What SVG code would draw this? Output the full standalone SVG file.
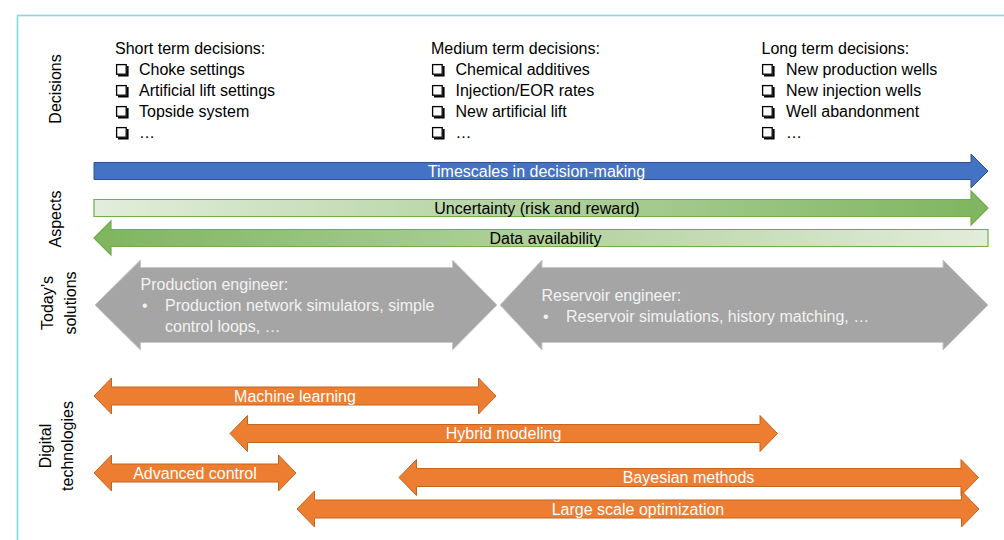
<svg xmlns="http://www.w3.org/2000/svg" width="1004" height="540" viewBox="0 0 1004 540">
  <style>
    text { font-family: "Liberation Sans", Arial, sans-serif; font-size: 16px; }
    .dark { fill: #000; }
    .light { fill: #ffffff; }
    .soft { fill: #f2f2f2; }
    .mid { text-anchor: middle; }
    .blue { fill: #4472c4; stroke: #2f528f; stroke-width: 1; }
    .green { stroke: #70ad47; stroke-width: 1.2; }
    .gray { fill: #a5a5a5; stroke: #c9c9c9; stroke-width: 1; }
    .orange { fill: #ed7d31; stroke: #c4651f; stroke-width: 1; }
  </style>
  <defs>
    <linearGradient id="gradUp" x1="0" y1="0" x2="1" y2="0">
      <stop offset="0" stop-color="#e2eddb"/>
      <stop offset="1" stop-color="#7fb55e"/>
    </linearGradient>
    <linearGradient id="gradDown" x1="0" y1="0" x2="1" y2="0">
      <stop offset="0" stop-color="#7fb55e"/>
      <stop offset="1" stop-color="#e2eddb"/>
    </linearGradient>
    <!-- checkbox bullet: outlined square with a drop shadow on the right and bottom -->
    <g id="box">
      <rect x="0.6" y="0.6" width="9.6" height="9.6" fill="none" stroke="#000" stroke-width="1.3"/>
      <path d="M10.8 2 H12.6 V12.6 H2 V10.8 H10.8 Z" fill="#000"/>
    </g>
  </defs>

  <!-- frame -->
  <rect x="17.5" y="15.5" width="1100" height="600" fill="#fff" stroke="#86d8d8" stroke-width="1.6"/>

  <!-- row labels -->
  <g id="row-labels" class="dark">
    <text class="mid" transform="translate(60.5,89) rotate(-90)">Decisions</text>
    <text class="mid" transform="translate(60.5,219) rotate(-90)">Aspects</text>
    <text class="mid" transform="translate(52.5,303) rotate(-90)">Today’s</text>
    <text class="mid" transform="translate(75.5,303) rotate(-90)">solutions</text>
    <text class="mid" transform="translate(51,446) rotate(-90)">Digital</text>
    <text class="mid" transform="translate(73,446) rotate(-90)">technologies</text>
  </g>

  <!-- decision lists -->
  <g id="short-term" class="dark">
    <text x="115" y="54">Short term decisions:</text>
    <use href="#box" x="116" y="64"/><text x="139" y="75">Choke settings</text>
    <use href="#box" x="116" y="85"/><text x="139" y="96">Artificial lift settings</text>
    <use href="#box" x="116" y="106"/><text x="139" y="117">Topside system</text>
    <use href="#box" x="116" y="127"/><text x="139" y="138">…</text>
  </g>
  <g id="medium-term" class="dark">
    <text x="431" y="54">Medium term decisions:</text>
    <use href="#box" x="432" y="64"/><text x="455.5" y="75">Chemical additives</text>
    <use href="#box" x="432" y="85"/><text x="455.5" y="96">Injection/EOR rates</text>
    <use href="#box" x="432" y="106"/><text x="455.5" y="117">New artificial lift</text>
    <use href="#box" x="432" y="127"/><text x="455.5" y="138">…</text>
  </g>
  <g id="long-term" class="dark">
    <text x="761.5" y="54">Long term decisions:</text>
    <use href="#box" x="762" y="64"/><text x="786" y="75">New production wells</text>
    <use href="#box" x="762" y="85"/><text x="786" y="96">New injection wells</text>
    <use href="#box" x="762" y="106"/><text x="786" y="117">Well abandonment</text>
    <use href="#box" x="762" y="127"/><text x="786" y="138">…</text>
  </g>

  <!-- aspects -->
  <g id="timescales">
    <polygon class="blue" points="94,162.5 971,162.5 971,154 988,171 971,188 971,179.5 94,179.5"/>
    <text class="light mid" x="536.5" y="176.5">Timescales in decision-making</text>
  </g>
  <g id="uncertainty">
    <polygon class="green" fill="url(#gradUp)" points="94,199.5 971,199.5 971,191 988,208 971,225 971,216.5 94,216.5"/>
    <text class="dark mid" x="537" y="213.5">Uncertainty (risk and reward)</text>
  </g>
  <g id="data-availability">
    <polygon class="green" fill="url(#gradDown)" points="94,238 111,221 111,229.5 988,229.5 988,246.5 111,246.5 111,255"/>
    <text class="dark mid" x="545.5" y="243.5">Data availability</text>
  </g>

  <!-- today's solutions -->
  <g id="production-engineer">
    <polygon class="gray" points="95,305 140.5,260 140.5,267.5 452.5,267.5 452.5,260 497,305 452.5,350 452.5,342.5 140.5,342.5 140.5,350"/>
    <text class="soft" x="140.5" y="289.5">Production engineer:</text>
    <text class="soft" x="142" y="310.5">•</text>
    <text class="soft" x="165" y="310.5">Production network simulators, simple</text>
    <text class="soft" x="165" y="331.5">control loops, …</text>
  </g>
  <g id="reservoir-engineer">
    <polygon class="gray" points="500,305 542,260 542,267.5 943,267.5 943,260 988,305 943,350 943,342.5 542,342.5 542,350"/>
    <text class="soft" x="541.5" y="300.5">Reservoir engineer:</text>
    <text class="soft" x="543" y="321.5">•</text>
    <text class="soft" x="566" y="321.5">Reservoir simulations, history matching, …</text>
  </g>

  <!-- digital technologies -->
  <g id="machine-learning">
    <polygon class="orange" points="94,396 111.5,378 111.5,387 478.5,387 478.5,378 496,396 478.5,414 478.5,405 111.5,405 111.5,414"/>
    <text class="light mid" x="295" y="401.5">Machine learning</text>
  </g>
  <g id="hybrid-modeling">
    <polygon class="orange" points="230,433.5 247.5,415.5 247.5,424.5 760,424.5 760,415.5 777.5,433.5 760,451.5 760,442.5 247.5,442.5 247.5,451.5"/>
    <text class="light mid" x="503.5" y="439">Hybrid modeling</text>
  </g>
  <g id="advanced-control">
    <polygon class="orange" points="94,473 111.5,455 111.5,464 278.5,464 278.5,455 296,473 278.5,491 278.5,482 111.5,482 111.5,491"/>
    <text class="light mid" x="195" y="478.5">Advanced control</text>
  </g>
  <g id="bayesian-methods">
    <polygon class="orange" points="399,477.5 416.5,459.5 416.5,468.5 961,468.5 961,459.5 978.5,477.5 961,495.5 961,486.5 416.5,486.5 416.5,495.5"/>
    <text class="light mid" x="688.5" y="483">Bayesian methods</text>
  </g>
  <g id="large-scale-optimization">
    <polygon class="orange" points="297,509 314.5,491 314.5,500 961.5,500 961.5,491 979,509 961.5,527 961.5,518 314.5,518 314.5,527"/>
    <text class="light mid" x="638" y="514.5">Large scale optimization</text>
  </g>

  <!-- no separate connectors: every arrow above is a shape of its own -->
  <g id="connectors"/>
</svg>
